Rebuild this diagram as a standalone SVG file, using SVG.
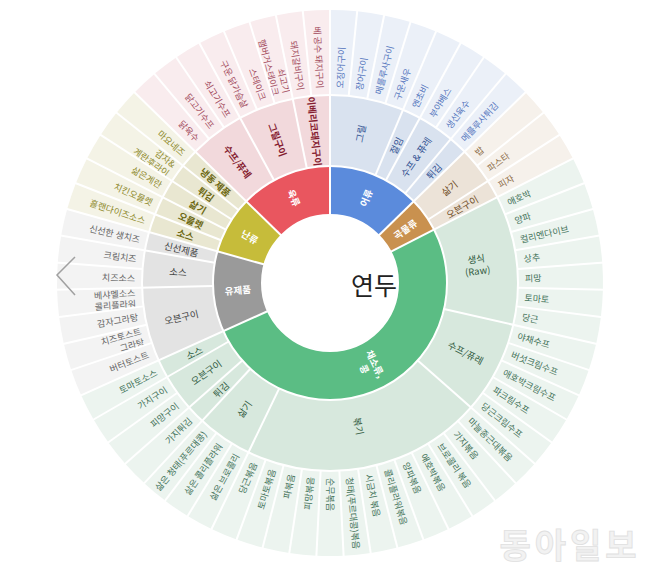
<svg xmlns="http://www.w3.org/2000/svg" width="658" height="578" viewBox="0 0 658 578">
<style>
text{font-family:"Noto Sans CJK KR","Noto Sans",sans-serif;dominant-baseline:central}
circle{fill:none}
.r1{stroke-width:49}.r2{stroke-width:71}.r3{stroke-width:85}
.t1{font-size:9.5px;fill:#fff;font-weight:700;text-anchor:middle}
.t2{font-size:9.5px;text-anchor:middle}
.t3{font-size:9px}
.e{text-anchor:end}
.B1{stroke:#5b8bdc}.B2{stroke:#d9e2ef}.B3{stroke:#ebf0f8}.Bt2{fill:#2f4f8f}.Bt3{fill:#5576bd}
.W1{stroke:#c9914f}.W2{stroke:#ece3d8}.W3{stroke:#f6f1eb}.Wt2{fill:#6e4b24}.Wt3{fill:#8c6c48}
.G1{stroke:#5bbd84}.G2{stroke:#d7e8dd}.G3{stroke:#ecf4ef}.Gt2{fill:#2f5a40}.Gt3{fill:#44735a}
.A1{stroke:#9a9a9a}.A2{stroke:#e3e3e3}.A3{stroke:#f3f3f3}.At2{fill:#444}.At3{fill:#666}
.Y1{stroke:#c6bc3a}.Y2{stroke:#e9e7d1}.Y3{stroke:#f4f3e6}.Yt2{fill:#6c6812;font-weight:700}.Yt3{fill:#8e8a2c}
.R1{stroke:#e9565f}.R2{stroke:#f2d9dc}.R3{stroke:#f9ecee}.Rt2{fill:#851c30;font-weight:700}.Rt3{fill:#a24a5c}
.sep line{stroke:#fff;stroke-width:2}
.sep circle{stroke:#fff;stroke-width:2}
</style>
<rect width="658" height="578" fill="#fff"/>
<g transform="translate(330 283)">
<g id="ring1">
<g id="fish"><circle class="r1 B1" r="92.5" pathLength="360" stroke-dasharray="45.714 360" transform="rotate(-90)"/><text class="t1" x="92.5" transform="rotate(-67.143)">어류</text></g>
<g id="grain"><circle class="r1 W1" r="92.5" pathLength="360" stroke-dasharray="17.143 360" transform="rotate(-44.286)"/><text class="t1" x="92.5" transform="rotate(-35.714)">곡물류</text></g>
<g id="veg"><circle class="r1 G1" r="92.5" pathLength="360" stroke-dasharray="182.857 360" transform="rotate(-27.143)"/><text class="t1" x="92.5" transform="rotate(64.286)"><tspan x="92.5" dy="-6">채소류,</tspan><tspan x="92.5" dy="12">콩</tspan></text></g>
<g id="dairy"><circle class="r1 A1" r="92.5" pathLength="360" stroke-dasharray="40 360" transform="rotate(155.714)"/><text class="t1" x="-92.5" transform="rotate(-4.286)">유제품</text></g>
<g id="egg"><circle class="r1 Y1" r="92.5" pathLength="360" stroke-dasharray="28.571 360" transform="rotate(195.714)"/><text class="t1" x="-92.5" transform="rotate(30)">난류</text></g>
<g id="meat"><circle class="r1 R1" r="92.5" pathLength="360" stroke-dasharray="45.714 360" transform="rotate(224.286)"/><text class="t1" x="-92.5" transform="rotate(67.143)">육류</text></g>
</g>
<g id="ring2">
<g id="fish-grill"><circle class="r2 B2" r="152.5" pathLength="360" stroke-dasharray="22.857 360" transform="rotate(-90)"/><text class="t2 Bt2" x="152.5" transform="rotate(-78.571)">그릴</text></g>
<g id="fish-pickle"><circle class="r2 B2" r="152.5" pathLength="360" stroke-dasharray="5.714 360" transform="rotate(-67.143)"/><text class="t2 Bt2" x="152.5" transform="rotate(-64.286)">절임</text></g>
<g id="fish-soup"><circle class="r2 B2" r="152.5" pathLength="360" stroke-dasharray="11.429 360" transform="rotate(-61.429)"/><text class="t2 Bt2" x="152.5" transform="rotate(-55.714)">수프 &amp; 퓨레</text></g>
<g id="fish-fry"><circle class="r2 B2" r="152.5" pathLength="360" stroke-dasharray="5.714 360" transform="rotate(-50)"/><text class="t2 Bt2" x="152.5" transform="rotate(-47.143)">튀김</text></g>
<g id="grain-boil"><circle class="r2 W2" r="152.5" pathLength="360" stroke-dasharray="11.429 360" transform="rotate(-44.286)"/><text class="t2 Wt2" x="152.5" transform="rotate(-38.571)">삶기</text></g>
<g id="grain-oven"><circle class="r2 W2" r="152.5" pathLength="360" stroke-dasharray="5.714 360" transform="rotate(-32.857)"/><text class="t2 Wt2" x="152.5" transform="rotate(-30)">오븐구이</text></g>
<g id="veg-raw"><circle class="r2 G2" r="152.5" pathLength="360" stroke-dasharray="40 360" transform="rotate(-27.143)"/><text class="t2 Gt2" x="148" transform="rotate(-7.143)"><tspan x="148" dy="-6">생식</tspan><tspan x="148" dy="12">(Raw)</tspan></text></g>
<g id="veg-soup"><circle class="r2 G2" r="152.5" pathLength="360" stroke-dasharray="28.571 360" transform="rotate(12.857)"/><text class="t2 Gt2" x="152.5" transform="rotate(27.143)">수프/퓨레</text></g>
<g id="veg-stirfry"><circle class="r2 G2" r="152.5" pathLength="360" stroke-dasharray="74.286 360" transform="rotate(41.429)"/><text class="t2 Gt2" x="146" transform="rotate(78.571)">볶기</text></g>
<g id="veg-boil"><circle class="r2 G2" r="152.5" pathLength="360" stroke-dasharray="17.143 360" transform="rotate(115.714)"/><text class="t2 Gt2" x="-152.5" transform="rotate(-55.714)">삶기</text></g>
<g id="veg-fry"><circle class="r2 G2" r="152.5" pathLength="360" stroke-dasharray="5.714 360" transform="rotate(132.857)"/><text class="t2 Gt2" x="-152.5" transform="rotate(-44.286)">튀김</text></g>
<g id="veg-oven"><circle class="r2 G2" r="152.5" pathLength="360" stroke-dasharray="11.429 360" transform="rotate(138.571)"/><text class="t2 Gt2" x="-152.5" transform="rotate(-35.714)">오븐구이</text></g>
<g id="veg-sauce"><circle class="r2 G2" r="152.5" pathLength="360" stroke-dasharray="5.714 360" transform="rotate(150)"/><text class="t2 Gt2" x="-152.5" transform="rotate(-27.143)">소스</text></g>
<g id="dairy-oven"><circle class="r2 A2" r="152.5" pathLength="360" stroke-dasharray="22.857 360" transform="rotate(155.714)"/><text class="t2 At2" x="-152.5" transform="rotate(-12.857)">오븐구이</text></g>
<g id="dairy-sauce"><circle class="r2 A2" r="152.5" pathLength="360" stroke-dasharray="11.429 360" transform="rotate(178.571)"/><text class="t2 At2" x="-152.5" transform="rotate(4.286)">소스</text></g>
<g id="dairy-fresh"><circle class="r2 A2" r="152.5" pathLength="360" stroke-dasharray="5.714 360" transform="rotate(190)"/><text class="t2 At2" x="-152.5" transform="rotate(12.857)">신선제품</text></g>
<g id="egg-sauce"><circle class="r2 Y2" r="152.5" pathLength="360" stroke-dasharray="5.714 360" transform="rotate(195.714)"/><text class="t2 Yt2" x="-152.5" transform="rotate(18.571)">소스</text></g>
<g id="egg-omelet"><circle class="r2 Y2" r="152.5" pathLength="360" stroke-dasharray="5.714 360" transform="rotate(201.429)"/><text class="t2 Yt2" x="-152.5" transform="rotate(24.286)">오믈렛</text></g>
<g id="egg-boil"><circle class="r2 Y2" r="152.5" pathLength="360" stroke-dasharray="5.714 360" transform="rotate(207.143)"/><text class="t2 Yt2" x="-152.5" transform="rotate(30)">삶기</text></g>
<g id="egg-fry"><circle class="r2 Y2" r="152.5" pathLength="360" stroke-dasharray="5.714 360" transform="rotate(212.857)"/><text class="t2 Yt2" x="-152.5" transform="rotate(35.714)">튀김</text></g>
<g id="egg-frozen"><circle class="r2 Y2" r="152.5" pathLength="360" stroke-dasharray="5.714 360" transform="rotate(218.571)"/><text class="t2 Yt2" x="-152.5" transform="rotate(41.429)">냉동 제품</text></g>
<g id="meat-soup"><circle class="r2 R2" r="152.5" pathLength="360" stroke-dasharray="17.143 360" transform="rotate(224.286)"/><text class="t2 Rt2" x="-152.5" transform="rotate(52.857)">수프/퓨레</text></g>
<g id="meat-grill"><circle class="r2 R2" r="152.5" pathLength="360" stroke-dasharray="17.143 360" transform="rotate(241.429)"/><text class="t2 Rt2" x="-152.5" transform="rotate(70)">그릴구이</text></g>
<g id="meat-iberico"><circle class="r2 R2" r="152.5" pathLength="360" stroke-dasharray="11.429 360" transform="rotate(258.571)"/><text class="t2 Rt2" x="-152.5" transform="rotate(84.286)">이베리코돼지구이</text></g>
</g>
<g id="ring3">
<g id="l00"><circle class="r3 B3" r="230.5" pathLength="360" stroke-dasharray="5.714 360" transform="rotate(-90)"/><text class="t3 Bt3" x="195" transform="rotate(-87.143)">오징어구이</text></g>
<g id="l01"><circle class="r3 B3" r="230.5" pathLength="360" stroke-dasharray="5.714 360" transform="rotate(-84.286)"/><text class="t3 Bt3" x="195" transform="rotate(-81.429)">장어구이</text></g>
<g id="l02"><circle class="r3 B3" r="230.5" pathLength="360" stroke-dasharray="5.714 360" transform="rotate(-78.571)"/><text class="t3 Bt3" x="195" transform="rotate(-75.714)">메를루사구이</text></g>
<g id="l03"><circle class="r3 B3" r="230.5" pathLength="360" stroke-dasharray="5.714 360" transform="rotate(-72.857)"/><text class="t3 Bt3" x="195" transform="rotate(-70)">구운새우</text></g>
<g id="l04"><circle class="r3 B3" r="230.5" pathLength="360" stroke-dasharray="5.714 360" transform="rotate(-67.143)"/><text class="t3 Bt3" x="195" transform="rotate(-64.286)">엔초비</text></g>
<g id="l05"><circle class="r3 B3" r="230.5" pathLength="360" stroke-dasharray="5.714 360" transform="rotate(-61.429)"/><text class="t3 Bt3" x="195" transform="rotate(-58.571)">부야베스</text></g>
<g id="l06"><circle class="r3 B3" r="230.5" pathLength="360" stroke-dasharray="5.714 360" transform="rotate(-55.714)"/><text class="t3 Bt3" x="195" transform="rotate(-52.857)">생선육수</text></g>
<g id="l07"><circle class="r3 B3" r="230.5" pathLength="360" stroke-dasharray="5.714 360" transform="rotate(-50)"/><text class="t3 Bt3" x="195" transform="rotate(-47.143)">메를루사튀김</text></g>
<g id="l08"><circle class="r3 W3" r="230.5" pathLength="360" stroke-dasharray="5.714 360" transform="rotate(-44.286)"/><text class="t3 Wt3" x="195" transform="rotate(-41.429)">밥</text></g>
<g id="l09"><circle class="r3 W3" r="230.5" pathLength="360" stroke-dasharray="5.714 360" transform="rotate(-38.571)"/><text class="t3 Wt3" x="195" transform="rotate(-35.714)">파스타</text></g>
<g id="l10"><circle class="r3 W3" r="230.5" pathLength="360" stroke-dasharray="5.714 360" transform="rotate(-32.857)"/><text class="t3 Wt3" x="195" transform="rotate(-30)">피자</text></g>
<g id="l11"><circle class="r3 G3" r="230.5" pathLength="360" stroke-dasharray="5.714 360" transform="rotate(-27.143)"/><text class="t3 Gt3" x="195" transform="rotate(-24.286)">애호박</text></g>
<g id="l12"><circle class="r3 G3" r="230.5" pathLength="360" stroke-dasharray="5.714 360" transform="rotate(-21.429)"/><text class="t3 Gt3" x="195" transform="rotate(-18.571)">양파</text></g>
<g id="l13"><circle class="r3 G3" r="230.5" pathLength="360" stroke-dasharray="5.714 360" transform="rotate(-15.714)"/><text class="t3 Gt3" x="195" transform="rotate(-12.857)">컬리엔다이브</text></g>
<g id="l14"><circle class="r3 G3" r="230.5" pathLength="360" stroke-dasharray="5.714 360" transform="rotate(-10)"/><text class="t3 Gt3" x="195" transform="rotate(-7.143)">상추</text></g>
<g id="l15"><circle class="r3 G3" r="230.5" pathLength="360" stroke-dasharray="5.714 360" transform="rotate(-4.286)"/><text class="t3 Gt3" x="195" transform="rotate(-1.429)">피망</text></g>
<g id="l16"><circle class="r3 G3" r="230.5" pathLength="360" stroke-dasharray="5.714 360" transform="rotate(1.429)"/><text class="t3 Gt3" x="195" transform="rotate(4.286)">토마토</text></g>
<g id="l17"><circle class="r3 G3" r="230.5" pathLength="360" stroke-dasharray="5.714 360" transform="rotate(7.143)"/><text class="t3 Gt3" x="195" transform="rotate(10)">당근</text></g>
<g id="l18"><circle class="r3 G3" r="230.5" pathLength="360" stroke-dasharray="5.714 360" transform="rotate(12.857)"/><text class="t3 Gt3" x="195" transform="rotate(15.714)">야채수프</text></g>
<g id="l19"><circle class="r3 G3" r="230.5" pathLength="360" stroke-dasharray="5.714 360" transform="rotate(18.571)"/><text class="t3 Gt3" x="195" transform="rotate(21.429)">버섯크림수프</text></g>
<g id="l20"><circle class="r3 G3" r="230.5" pathLength="360" stroke-dasharray="5.714 360" transform="rotate(24.286)"/><text class="t3 Gt3" x="195" transform="rotate(27.143)">애호박크림수프</text></g>
<g id="l21"><circle class="r3 G3" r="230.5" pathLength="360" stroke-dasharray="5.714 360" transform="rotate(30)"/><text class="t3 Gt3" x="195" transform="rotate(32.857)">파크림수프</text></g>
<g id="l22"><circle class="r3 G3" r="230.5" pathLength="360" stroke-dasharray="5.714 360" transform="rotate(35.714)"/><text class="t3 Gt3" x="195" transform="rotate(38.571)">당근크림수프</text></g>
<g id="l23"><circle class="r3 G3" r="230.5" pathLength="360" stroke-dasharray="5.714 360" transform="rotate(41.429)"/><text class="t3 Gt3" x="195" transform="rotate(44.286)">마늘종근대볶음</text></g>
<g id="l24"><circle class="r3 G3" r="230.5" pathLength="360" stroke-dasharray="5.714 360" transform="rotate(47.143)"/><text class="t3 Gt3" x="195" transform="rotate(50)">가지볶음</text></g>
<g id="l25"><circle class="r3 G3" r="230.5" pathLength="360" stroke-dasharray="5.714 360" transform="rotate(52.857)"/><text class="t3 Gt3" x="195" transform="rotate(55.714)">브로콜리 볶음</text></g>
<g id="l26"><circle class="r3 G3" r="230.5" pathLength="360" stroke-dasharray="5.714 360" transform="rotate(58.571)"/><text class="t3 Gt3" x="195" transform="rotate(61.429)">애호박볶음</text></g>
<g id="l27"><circle class="r3 G3" r="230.5" pathLength="360" stroke-dasharray="5.714 360" transform="rotate(64.286)"/><text class="t3 Gt3" x="195" transform="rotate(67.143)">양파볶음</text></g>
<g id="l28"><circle class="r3 G3" r="230.5" pathLength="360" stroke-dasharray="5.714 360" transform="rotate(70)"/><text class="t3 Gt3" x="195" transform="rotate(72.857)">콜리플라워볶음</text></g>
<g id="l29"><circle class="r3 G3" r="230.5" pathLength="360" stroke-dasharray="5.714 360" transform="rotate(75.714)"/><text class="t3 Gt3" x="195" transform="rotate(78.571)">시금치 볶음</text></g>
<g id="l30"><circle class="r3 G3" r="230.5" pathLength="360" stroke-dasharray="5.714 360" transform="rotate(81.429)"/><text class="t3 Gt3" x="195" transform="rotate(84.286)">청태(푸르대콩)볶음</text></g>
<g id="l31"><circle class="r3 G3" r="230.5" pathLength="360" stroke-dasharray="5.714 360" transform="rotate(87.143)"/><text class="t3 Gt3" x="195" transform="rotate(90)">순무볶음</text></g>
<g id="l32"><circle class="r3 G3" r="230.5" pathLength="360" stroke-dasharray="5.714 360" transform="rotate(92.857)"/><text class="t3 Gt3 e" x="-195" transform="rotate(-84.286)">피망볶음</text></g>
<g id="l33"><circle class="r3 G3" r="230.5" pathLength="360" stroke-dasharray="5.714 360" transform="rotate(98.571)"/><text class="t3 Gt3 e" x="-195" transform="rotate(-78.571)">파볶음</text></g>
<g id="l34"><circle class="r3 G3" r="230.5" pathLength="360" stroke-dasharray="5.714 360" transform="rotate(104.286)"/><text class="t3 Gt3 e" x="-195" transform="rotate(-72.857)">토마토볶음</text></g>
<g id="l35"><circle class="r3 G3" r="230.5" pathLength="360" stroke-dasharray="5.714 360" transform="rotate(110)"/><text class="t3 Gt3 e" x="-195" transform="rotate(-67.143)">당근볶음</text></g>
<g id="l36"><circle class="r3 G3" r="230.5" pathLength="360" stroke-dasharray="5.714 360" transform="rotate(115.714)"/><text class="t3 Gt3 e" x="-195" transform="rotate(-61.429)">삶은 브로콜리</text></g>
<g id="l37"><circle class="r3 G3" r="230.5" pathLength="360" stroke-dasharray="5.714 360" transform="rotate(121.429)"/><text class="t3 Gt3 e" x="-195" transform="rotate(-55.714)">삶은 콜리플라워</text></g>
<g id="l38"><circle class="r3 G3" r="230.5" pathLength="360" stroke-dasharray="5.714 360" transform="rotate(127.143)"/><text class="t3 Gt3 e" x="-195" transform="rotate(-50)">삶은 청태(푸르대콩)</text></g>
<g id="l39"><circle class="r3 G3" r="230.5" pathLength="360" stroke-dasharray="5.714 360" transform="rotate(132.857)"/><text class="t3 Gt3 e" x="-195" transform="rotate(-44.286)">가지튀김</text></g>
<g id="l40"><circle class="r3 G3" r="230.5" pathLength="360" stroke-dasharray="5.714 360" transform="rotate(138.571)"/><text class="t3 Gt3 e" x="-195" transform="rotate(-38.571)">피망구이</text></g>
<g id="l41"><circle class="r3 G3" r="230.5" pathLength="360" stroke-dasharray="5.714 360" transform="rotate(144.286)"/><text class="t3 Gt3 e" x="-195" transform="rotate(-32.857)">가지구이</text></g>
<g id="l42"><circle class="r3 G3" r="230.5" pathLength="360" stroke-dasharray="5.714 360" transform="rotate(150)"/><text class="t3 Gt3 e" x="-195" transform="rotate(-27.143)">토마토소스</text></g>
<g id="l43"><circle class="r3 A3" r="230.5" pathLength="360" stroke-dasharray="5.714 360" transform="rotate(155.714)"/><text class="t3 At3 e" x="-195" transform="rotate(-21.429)">버터토스트</text></g>
<g id="l44"><circle class="r3 A3" r="230.5" pathLength="360" stroke-dasharray="5.714 360" transform="rotate(161.429)"/><text class="t3 At3 e" x="-195" transform="rotate(-15.714)"><tspan x="-195" dy="-5.5">치즈토스트</tspan><tspan x="-195" dy="11">그라탕</tspan></text></g>
<g id="l45"><circle class="r3 A3" r="230.5" pathLength="360" stroke-dasharray="5.714 360" transform="rotate(167.143)"/><text class="t3 At3 e" x="-195" transform="rotate(-10)">감자그라탕</text></g>
<g id="l46"><circle class="r3 A3" r="230.5" pathLength="360" stroke-dasharray="5.714 360" transform="rotate(172.857)"/><text class="t3 At3 e" x="-195" transform="rotate(-4.286)"><tspan x="-195" dy="-5.5">베샤멜소스</tspan><tspan x="-195" dy="11">콜리플라워</tspan></text></g>
<g id="l47"><circle class="r3 A3" r="230.5" pathLength="360" stroke-dasharray="5.714 360" transform="rotate(178.571)"/><text class="t3 At3 e" x="-195" transform="rotate(1.429)">치즈소스</text></g>
<g id="l48"><circle class="r3 A3" r="230.5" pathLength="360" stroke-dasharray="5.714 360" transform="rotate(184.286)"/><text class="t3 At3 e" x="-195" transform="rotate(7.143)">크림치즈</text></g>
<g id="l49"><circle class="r3 A3" r="230.5" pathLength="360" stroke-dasharray="5.714 360" transform="rotate(190)"/><text class="t3 At3 e" x="-195" transform="rotate(12.857)">신선한 생치즈</text></g>
<g id="l50"><circle class="r3 Y3" r="230.5" pathLength="360" stroke-dasharray="5.714 360" transform="rotate(195.714)"/><text class="t3 Yt3 e" x="-195" transform="rotate(18.571)">홀랜다이즈소스</text></g>
<g id="l51"><circle class="r3 Y3" r="230.5" pathLength="360" stroke-dasharray="5.714 360" transform="rotate(201.429)"/><text class="t3 Yt3 e" x="-195" transform="rotate(24.286)">치킨오믈렛</text></g>
<g id="l52"><circle class="r3 Y3" r="230.5" pathLength="360" stroke-dasharray="5.714 360" transform="rotate(207.143)"/><text class="t3 Yt3 e" x="-195" transform="rotate(30)">삶은계란</text></g>
<g id="l53"><circle class="r3 Y3" r="230.5" pathLength="360" stroke-dasharray="5.714 360" transform="rotate(212.857)"/><text class="t3 Yt3 e" x="-195" transform="rotate(35.714)"><tspan x="-195" dy="-5.5">감자&amp;</tspan><tspan x="-195" dy="11">계란후라이</tspan></text></g>
<g id="l54"><circle class="r3 Y3" r="230.5" pathLength="360" stroke-dasharray="5.714 360" transform="rotate(218.571)"/><text class="t3 Yt3 e" x="-195" transform="rotate(41.429)">마요네즈</text></g>
<g id="l55"><circle class="r3 R3" r="230.5" pathLength="360" stroke-dasharray="5.714 360" transform="rotate(224.286)"/><text class="t3 Rt3 e" x="-195" transform="rotate(47.143)">닭육수</text></g>
<g id="l56"><circle class="r3 R3" r="230.5" pathLength="360" stroke-dasharray="5.714 360" transform="rotate(230)"/><text class="t3 Rt3 e" x="-195" transform="rotate(52.857)">닭고기수프</text></g>
<g id="l57"><circle class="r3 R3" r="230.5" pathLength="360" stroke-dasharray="5.714 360" transform="rotate(235.714)"/><text class="t3 Rt3 e" x="-195" transform="rotate(58.571)">쇠고기수프</text></g>
<g id="l58"><circle class="r3 R3" r="230.5" pathLength="360" stroke-dasharray="5.714 360" transform="rotate(241.429)"/><text class="t3 Rt3 e" x="-195" transform="rotate(64.286)">구운 닭가슴살</text></g>
<g id="l59"><circle class="r3 R3" r="230.5" pathLength="360" stroke-dasharray="5.714 360" transform="rotate(247.143)"/><text class="t3 Rt3 e" x="-195" transform="rotate(70)">스테이크</text></g>
<g id="l60"><circle class="r3 R3" r="230.5" pathLength="360" stroke-dasharray="5.714 360" transform="rotate(252.857)"/><text class="t3 Rt3 e" x="-195" transform="rotate(75.714)"><tspan x="-195" dy="-5.5">쇠고기</tspan><tspan x="-195" dy="11">햄버거스테이크</tspan></text></g>
<g id="l61"><circle class="r3 R3" r="230.5" pathLength="360" stroke-dasharray="5.714 360" transform="rotate(258.571)"/><text class="t3 Rt3 e" x="-195" transform="rotate(81.429)">돼지갈비구이</text></g>
<g id="l62"><circle class="r3 R3" r="230.5" pathLength="360" stroke-dasharray="5.714 360" transform="rotate(264.286)"/><text class="t3 Rt3 e" x="-195" transform="rotate(87.143)">베 공수 돼지구이</text></g>
</g>
<g id="separators" class="sep">
<circle r="68"/><circle r="117"/><circle r="188"/>
<line y1="-68" y2="-275" transform="rotate(0)"/><line y1="-68" y2="-275" transform="rotate(45.714)"/><line y1="-68" y2="-275" transform="rotate(62.857)"/><line y1="-68" y2="-275" transform="rotate(245.714)"/><line y1="-68" y2="-275" transform="rotate(285.714)"/><line y1="-68" y2="-275" transform="rotate(314.286)"/>
<line y1="-117" y2="-275" transform="rotate(22.857)"/><line y1="-117" y2="-275" transform="rotate(28.571)"/><line y1="-117" y2="-275" transform="rotate(40)"/><line y1="-117" y2="-275" transform="rotate(57.143)"/><line y1="-117" y2="-275" transform="rotate(102.857)"/><line y1="-117" y2="-275" transform="rotate(131.429)"/><line y1="-117" y2="-275" transform="rotate(205.714)"/><line y1="-117" y2="-275" transform="rotate(222.857)"/><line y1="-117" y2="-275" transform="rotate(228.571)"/><line y1="-117" y2="-275" transform="rotate(240)"/><line y1="-117" y2="-275" transform="rotate(268.571)"/><line y1="-117" y2="-275" transform="rotate(280)"/><line y1="-117" y2="-275" transform="rotate(291.429)"/><line y1="-117" y2="-275" transform="rotate(297.143)"/><line y1="-117" y2="-275" transform="rotate(302.857)"/><line y1="-117" y2="-275" transform="rotate(308.571)"/><line y1="-117" y2="-275" transform="rotate(331.429)"/><line y1="-117" y2="-275" transform="rotate(348.571)"/>
<line y1="-188" y2="-275" transform="rotate(5.714)"/><line y1="-188" y2="-275" transform="rotate(11.429)"/><line y1="-188" y2="-275" transform="rotate(17.143)"/><line y1="-188" y2="-275" transform="rotate(34.286)"/><line y1="-188" y2="-275" transform="rotate(51.429)"/><line y1="-188" y2="-275" transform="rotate(68.571)"/><line y1="-188" y2="-275" transform="rotate(74.286)"/><line y1="-188" y2="-275" transform="rotate(80)"/><line y1="-188" y2="-275" transform="rotate(85.714)"/><line y1="-188" y2="-275" transform="rotate(91.429)"/><line y1="-188" y2="-275" transform="rotate(97.143)"/><line y1="-188" y2="-275" transform="rotate(108.571)"/><line y1="-188" y2="-275" transform="rotate(114.286)"/><line y1="-188" y2="-275" transform="rotate(120)"/><line y1="-188" y2="-275" transform="rotate(125.714)"/><line y1="-188" y2="-275" transform="rotate(137.143)"/><line y1="-188" y2="-275" transform="rotate(142.857)"/><line y1="-188" y2="-275" transform="rotate(148.571)"/><line y1="-188" y2="-275" transform="rotate(154.286)"/><line y1="-188" y2="-275" transform="rotate(160)"/><line y1="-188" y2="-275" transform="rotate(165.714)"/><line y1="-188" y2="-275" transform="rotate(171.429)"/><line y1="-188" y2="-275" transform="rotate(177.143)"/><line y1="-188" y2="-275" transform="rotate(182.857)"/><line y1="-188" y2="-275" transform="rotate(188.571)"/><line y1="-188" y2="-275" transform="rotate(194.286)"/><line y1="-188" y2="-275" transform="rotate(200)"/><line y1="-188" y2="-275" transform="rotate(211.429)"/><line y1="-188" y2="-275" transform="rotate(217.143)"/><line y1="-188" y2="-275" transform="rotate(234.286)"/><line y1="-188" y2="-275" transform="rotate(251.429)"/><line y1="-188" y2="-275" transform="rotate(257.143)"/><line y1="-188" y2="-275" transform="rotate(262.857)"/><line y1="-188" y2="-275" transform="rotate(274.286)"/><line y1="-188" y2="-275" transform="rotate(320)"/><line y1="-188" y2="-275" transform="rotate(325.714)"/><line y1="-188" y2="-275" transform="rotate(337.143)"/><line y1="-188" y2="-275" transform="rotate(342.857)"/><line y1="-188" y2="-275" transform="rotate(354.286)"/>
</g>
</g>
<text x="374" y="284" font-size="25" text-anchor="middle" fill="#222">연두</text>
<polyline points="75,257 57,275 75,295" fill="none" stroke="#a0a0a0" stroke-width="1.5"/>
<text x="570" y="543" font-size="34" font-weight="700" text-anchor="middle" fill="#f2f2f2" stroke="#e0e0e0" stroke-width="0.8" letter-spacing="4">동아일보</text>
</svg>
